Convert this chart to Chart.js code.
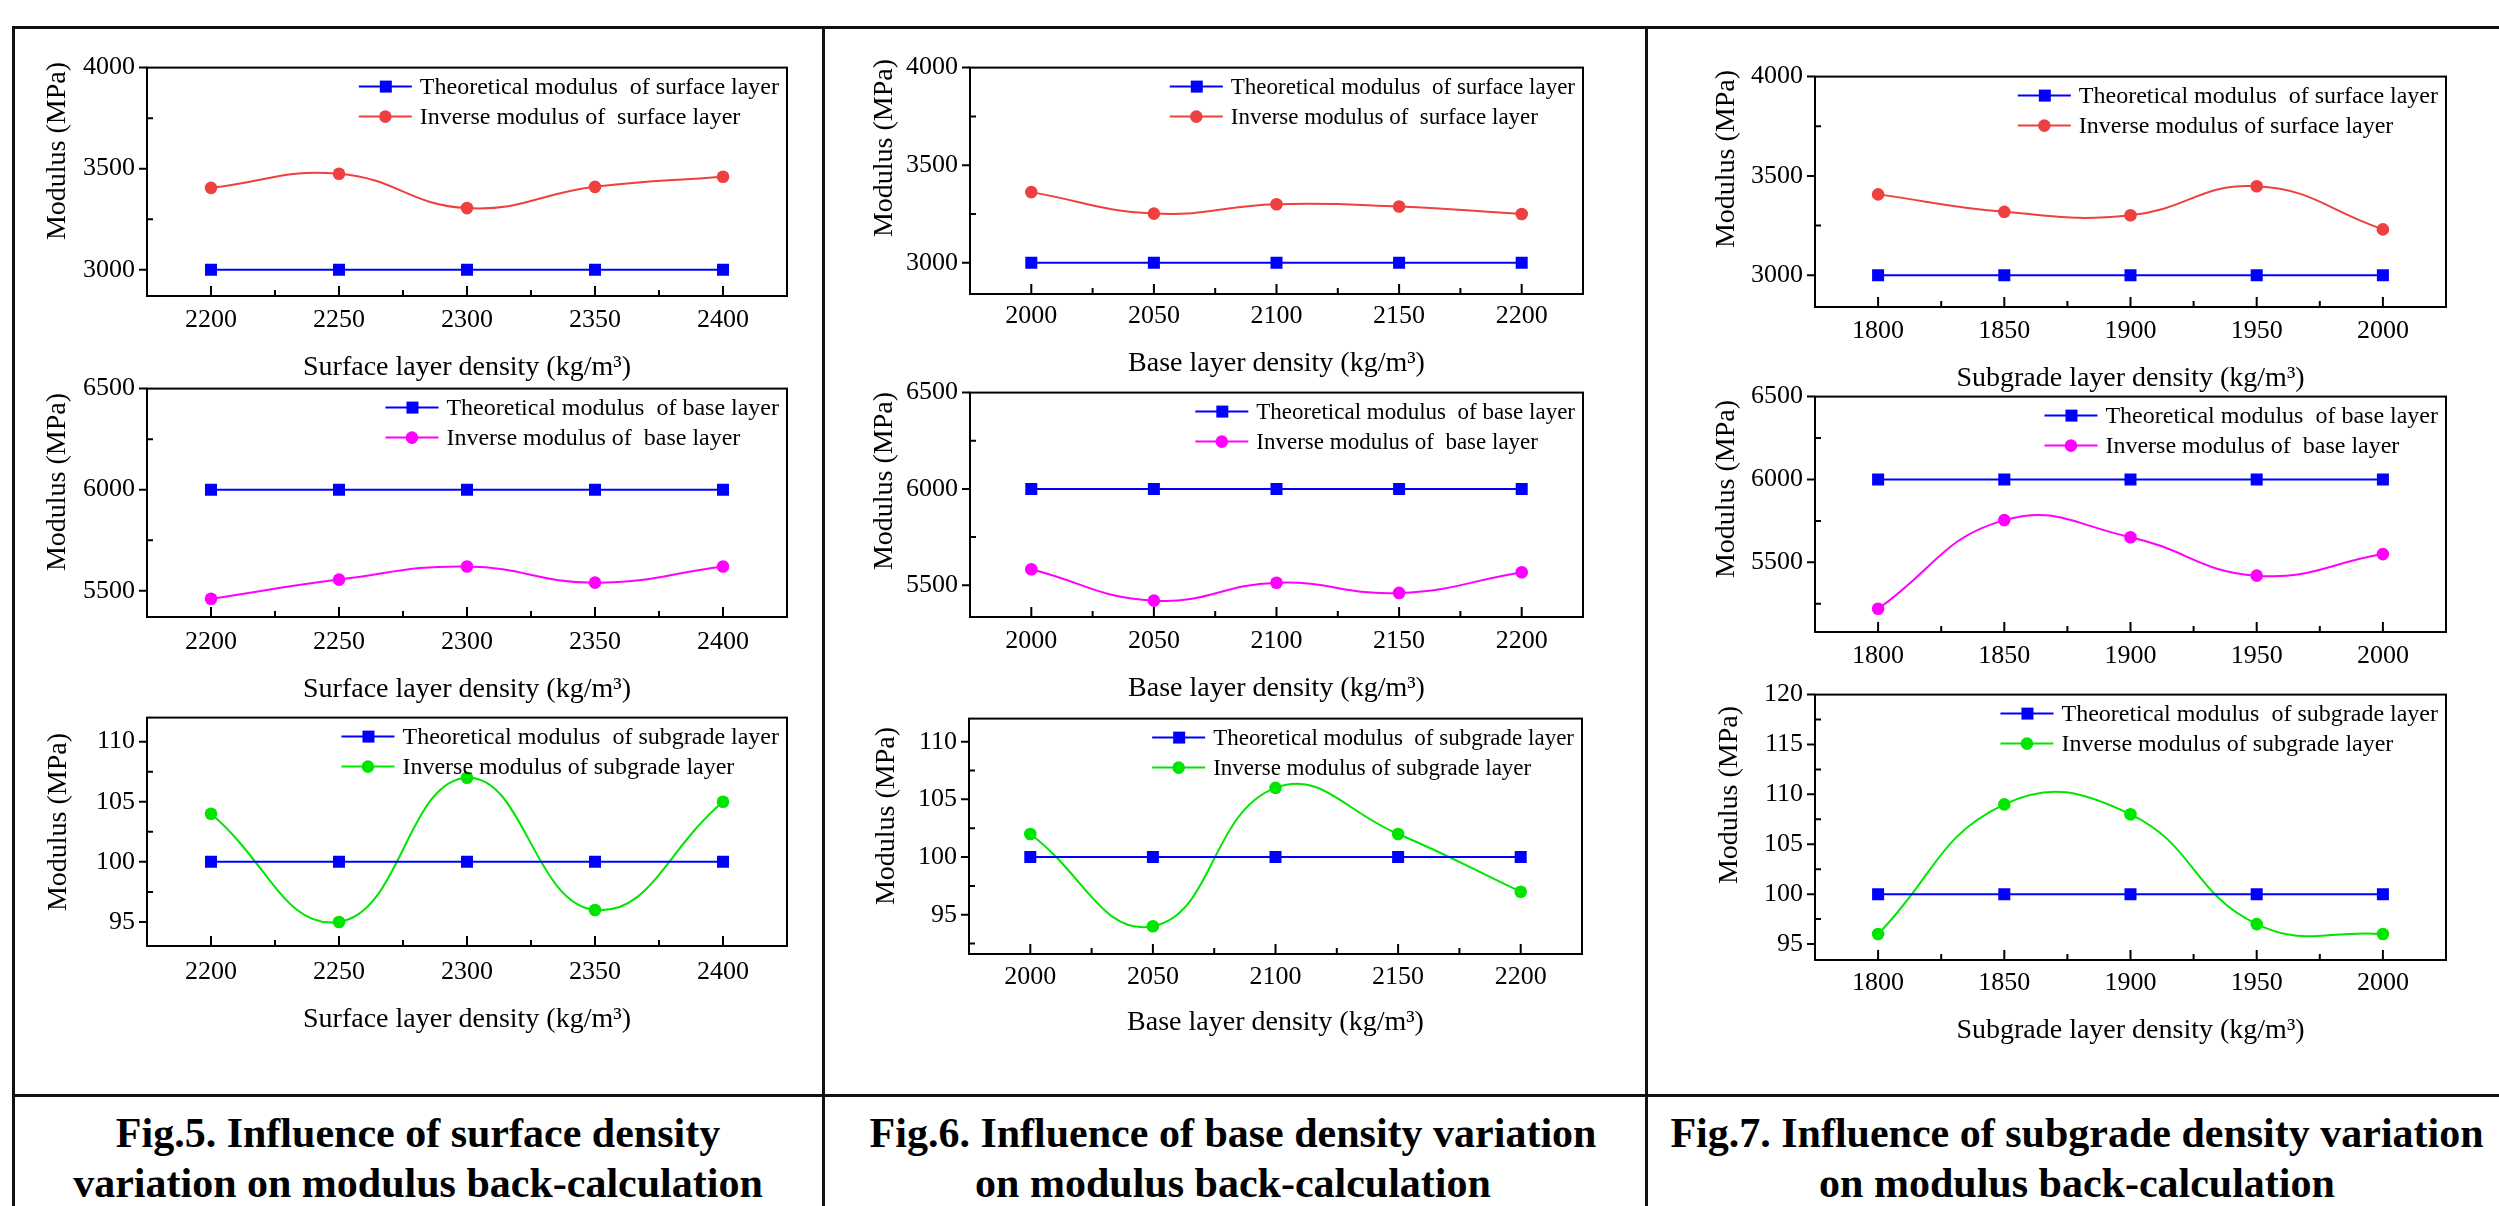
<!DOCTYPE html>
<html>
<head>
<meta charset="utf-8">
<script src="https://cdn.jsdelivr.net/npm/chart.js@4.4.1/dist/chart.umd.min.js"></script>
<style>
  body { margin: 0; background: #fff; width: 2499px; height: 1206px; overflow: hidden; position: relative;
         font-family: "Liberation Serif", "Times New Roman", serif; }
  .rule { position: absolute; background: #111; }
  .caption { position: absolute; top: 1108px; text-align: center; font-weight: bold; font-size: 42px; line-height: 50px; color: #000; }
  canvas { position: absolute; }
</style>
</head>
<body>
<div class="rule" style="left:12px; top:26px; width:2487px; height:3px"></div>
<div class="rule" style="left:12px; top:1094px; width:2487px; height:3px"></div>
<div class="rule" style="left:12px; top:26px; width:3px; height:1180px"></div>
<div class="rule" style="left:822px; top:26px; width:3px; height:1180px"></div>
<div class="rule" style="left:1645px; top:26px; width:3px; height:1180px"></div>

<div class="caption" style="left:15px; width:806px">Fig.5. Influence of surface density<br>variation on modulus back-calculation</div>
<div class="caption" style="left:825px; width:816px">Fig.6. Influence of base density variation<br>on modulus back-calculation</div>
<div class="caption" style="left:1648px; width:858px">Fig.7. Influence of subgrade density variation<br>on modulus back-calculation</div>

<script>
// Dichte-Stufen (x-Achse)
const surfaceDensity = [2200, 2250, 2300, 2350, 2400];
const baseDensity = [2000, 2050, 2100, 2150, 2200];
const subgradeDensity = [1800, 1850, 1900, 1950, 2000];

// Theoretische Moduln
const theoSurface = [3000, 3000, 3000, 3000, 3000];
const theoBase = [6000, 6000, 6000, 6000, 6000];
const theoSubgrade = [100, 100, 100, 100, 100];

// Fig.5 - Variation der Deckschichtdichte
const fig5Surface = [3405, 3475, 3305, 3410, 3460];
const fig5Base = [5460, 5555, 5620, 5540, 5620];
const fig5Subgrade = [104, 95, 107, 96, 105];

// Fig.6 - Variation der Tragschichtdichte
const fig6Surface = [3362, 3252, 3300, 3288, 3250];
const fig6Base = [5583, 5420, 5513, 5460, 5567];
const fig6Subgrade = [102, 94, 106, 102, 97];

// Fig.7 - Variation der Untergrunddichte
const fig7Surface = [3407, 3319, 3302, 3448, 3231];
const fig7Base = [5220, 5755, 5652, 5420, 5550];
const fig7Subgrade = [96, 109, 108, 97, 96];

// Y-Ticks
const surfaceTicks = [3000, 3500, 4000];
const baseTicks = [5500, 6000, 6500];
const subgradeTicks = [95, 100, 105, 110];
const subgradeTicksWide = [95, 100, 105, 110, 115, 120];

// Texte
const yTitle = 'Modulus (MPa)';
const xTitleSurface = 'Surface layer density (kg/m\u00B3)';
const xTitleBase = 'Base layer density (kg/m\u00B3)';
const xTitleSubgrade = 'Subgrade layer density (kg/m\u00B3)';
const legendSurface = ['Theoretical modulus  of surface layer', 'Inverse modulus of  surface layer'];
const legendSurface7 = ['Theoretical modulus  of surface layer', 'Inverse modulus of surface layer'];
const legendBase = ['Theoretical modulus  of base layer', 'Inverse modulus of  base layer'];
const legendSubgrade = ['Theoretical modulus  of subgrade layer', 'Inverse modulus of subgrade layer'];

const FONT = '"Liberation Serif", "Times New Roman", serif';
Chart.defaults.font.family = FONT;
Chart.defaults.color = '#000';

const RED = '#ef4040', MAGENTA = '#ff00ff', GREEN = '#00e600', BLUE = '#0000ff';

// Rahmen + Origin-artige Ticks
const frameTicks = {
    id: 'frameTicks',
    afterDatasetsDraw(chart) {
        const { ctx, chartArea: a, scales: { x, y } } = chart;
        ctx.save();
        ctx.strokeStyle = '#000';
        ctx.lineWidth = 2;
        ctx.strokeRect(a.left, a.top, a.right - a.left, a.bottom - a.top);
        ctx.beginPath();
        const xs = x.ticks.map(t => t.value);
        const xStep = xs[1] - xs[0];
        xs.forEach(v => {
            const px = x.getPixelForValue(v);
            ctx.moveTo(px, a.bottom); ctx.lineTo(px, a.bottom - 10);
        });
        [xs[0] - xStep / 2].concat(xs.map(v => v + xStep / 2)).forEach(v => {
            if (v <= x.min || v >= x.max) return;
            const px = x.getPixelForValue(v);
            ctx.moveTo(px, a.bottom); ctx.lineTo(px, a.bottom - 6);
        });
        const ys = y.ticks.map(t => t.value);
        const yStep = ys[1] - ys[0];
        ys.forEach(v => {
            const py = y.getPixelForValue(v);
            ctx.moveTo(a.left - 8, py); ctx.lineTo(a.left, py);
        });
        [ys[0] - yStep / 2].concat(ys.map(v => v + yStep / 2)).forEach(v => {
            if (v <= y.min || v >= y.max) return;
            const py = y.getPixelForValue(v);
            ctx.moveTo(a.left, py); ctx.lineTo(a.left + 6, py);
        });
        ctx.stroke();
        ctx.restore();
    }
};

// Legende oben rechts im Plot
const insetLegend = {
    id: 'insetLegend',
    afterDatasetsDraw(chart, args, opts) {
        const { ctx, chartArea: a } = chart;
        const sets = chart.data.datasets;
        ctx.save();
        ctx.font = opts.size + 'px ' + FONT;
        const textW = Math.max(...sets.map(d => ctx.measureText(d.label).width));
        const x0 = a.right - 8 - textW - 61;
        sets.forEach((d, i) => {
            const y = a.top + 19 + i * 30;
            ctx.strokeStyle = d.borderColor;
            ctx.lineWidth = 2;
            ctx.beginPath(); ctx.moveTo(x0, y); ctx.lineTo(x0 + 53, y); ctx.stroke();
            ctx.fillStyle = d.borderColor;
            ctx.beginPath();
            if (d.pointStyle === 'rect') {
                ctx.rect(x0 + 21, y - 6, 12, 12);
            } else {
                ctx.arc(x0 + 26.5, y, 6.3, 0, Math.PI * 2);
            }
            ctx.fill();
            ctx.fillStyle = '#000';
            ctx.textBaseline = 'middle';
            ctx.fillText(d.label, x0 + 61, y + 1);
        });
        ctx.restore();
    }
};

// Y-Titel frei positioniert (im Original nicht mittig)
const yTitlePlugin = {
    id: 'yTitle',
    afterDraw(chart, args, opts) {
        const { ctx } = chart;
        ctx.save();
        ctx.font = '28px ' + FONT;
        ctx.fillStyle = '#000';
        ctx.textAlign = 'center';
        ctx.textBaseline = 'middle';
        ctx.translate(opts.x, opts.y);
        ctx.rotate(-Math.PI / 2);
        ctx.fillText(opts.text, 0, 0);
        ctx.restore();
    }
};

function makePanel(p) {
    const left = p.yTitleX - 20;
    const top = p.plot.t - 22;
    const right = p.plot.r + 10;
    const bottom = (p.xTitle ? p.xTitleY : p.tickY) + 22;
    const w = right - left, h = bottom - top;

    const canvas = document.createElement('canvas');
    canvas.width = w; canvas.height = h;
    canvas.style.left = left + 'px';
    canvas.style.top = top + 'px';
    document.body.appendChild(canvas);

    const tickLH = 26 * 1.2, titleLH = 28 * 1.2;

    new Chart(canvas, {
        type: 'line',
        data: {
            datasets: [
                {
                    label: p.legend[0],
                    data: p.x.map((v, i) => ({ x: v, y: p.theo[i] })),
                    borderColor: BLUE, backgroundColor: BLUE, borderWidth: 2,
                    pointStyle: 'rect', pointRadius: 8.5, pointBorderWidth: 0, tension: 0
                },
                {
                    label: p.legend[1],
                    data: p.x.map((v, i) => ({ x: v, y: p.inv[i] })),
                    borderColor: p.color, backgroundColor: p.color, borderWidth: 2,
                    pointStyle: 'circle', pointRadius: 6.3, pointBorderWidth: 0, tension: 0.45
                }
            ]
        },
        options: {
            responsive: false,
            animation: false,
            layout: { padding: { left: 0, top: 22, right: 10, bottom: 0 } },
            plugins: {
                legend: { display: false },
                tooltip: { enabled: false },
                insetLegend: { size: p.legendSize },
                yTitle: { text: yTitle, x: p.yTitleX - left, y: p.yTitleY - top }
            },
            scales: {
                x: {
                    type: 'linear',
                    min: p.xRange[0], max: p.xRange[1],
                    grid: { display: false, drawTicks: false },
                    border: { display: false },
                    afterBuildTicks: s => { s.ticks = p.x.map(v => ({ value: v })); },
                    afterFit: s => { s.height = bottom - p.plot.b; },
                    ticks: {
                        font: { size: 26 }, color: '#000', maxRotation: 0,
                        padding: p.tickY - p.plot.b - tickLH / 2,
                        callback: v => String(v)
                    },
                    title: {
                        display: !!p.xTitle, text: p.xTitle, color: '#000',
                        font: { size: 28 },
                        padding: { top: 0, bottom: 22 - titleLH / 2 }
                    }
                },
                y: {
                    min: p.yRange[0], max: p.yRange[1],
                    grid: { display: false, drawTicks: false },
                    border: { display: false },
                    afterBuildTicks: s => { s.ticks = p.yTicks.map(v => ({ value: v })); },
                    afterFit: s => { s.width = p.plot.l - left; },
                    ticks: { font: { size: 26 }, color: '#000', padding: 12, callback: v => String(v) }
                }
            }
        },
        plugins: [frameTicks, insetLegend, yTitlePlugin]
    });
}

const panels = [
    // Fig.5
    { x: surfaceDensity, theo: theoSurface, inv: fig5Surface, color: RED, legend: legendSurface, legendSize: 24,
      xRange: [2175, 2425], yRange: [2870, 4000], yTicks: surfaceTicks,
      plot: { l: 147, t: 62, r: 787, b: 296 }, tickY: 320, xTitle: xTitleSurface, xTitleY: 368, yTitleX: 58, yTitleY: 151 },
    { x: surfaceDensity, theo: theoBase, inv: fig5Base, color: MAGENTA, legend: legendBase, legendSize: 24,
      xRange: [2175, 2425], yRange: [5370, 6500], yTicks: baseTicks,
      plot: { l: 147, t: 383, r: 787, b: 617 }, tickY: 642, xTitle: xTitleSurface, xTitleY: 690, yTitleX: 58, yTitleY: 482 },
    { x: surfaceDensity, theo: theoSubgrade, inv: fig5Subgrade, color: GREEN, legend: legendSubgrade, legendSize: 24,
      xRange: [2175, 2425], yRange: [93, 112], yTicks: subgradeTicks,
      plot: { l: 147, t: 712, r: 787, b: 946 }, tickY: 972, xTitle: xTitleSurface, xTitleY: 1020, yTitleX: 59, yTitleY: 822 },
    // Fig.6
    { x: baseDensity, theo: theoSurface, inv: fig6Surface, color: RED, legend: legendSurface, legendSize: 23,
      xRange: [1975, 2225], yRange: [2840, 4000], yTicks: surfaceTicks,
      plot: { l: 970, t: 62, r: 1583, b: 294 }, tickY: 316, xTitle: xTitleBase, xTitleY: 364, yTitleX: 885, yTitleY: 148 },
    { x: baseDensity, theo: theoBase, inv: fig6Base, color: MAGENTA, legend: legendBase, legendSize: 23,
      xRange: [1975, 2225], yRange: [5335, 6500], yTicks: baseTicks,
      plot: { l: 970, t: 387, r: 1583, b: 617 }, tickY: 641, xTitle: xTitleBase, xTitleY: 689, yTitleX: 885, yTitleY: 481 },
    { x: baseDensity, theo: theoSubgrade, inv: fig6Subgrade, color: GREEN, legend: legendSubgrade, legendSize: 23,
      xRange: [1975, 2225], yRange: [91.6, 112], yTicks: subgradeTicks,
      plot: { l: 969, t: 713, r: 1582, b: 954 }, tickY: 977, xTitle: xTitleBase, xTitleY: 1023, yTitleX: 887, yTitleY: 816 },
    // Fig.7
    { x: subgradeDensity, theo: theoSurface, inv: fig7Surface, color: RED, legend: legendSurface7, legendSize: 24,
      xRange: [1775, 2025], yRange: [2840, 4000], yTicks: surfaceTicks,
      plot: { l: 1815, t: 71, r: 2446, b: 307 }, tickY: 331, xTitle: xTitleSubgrade, xTitleY: 379, yTitleX: 1727, yTitleY: 159 },
    { x: subgradeDensity, theo: theoBase, inv: fig7Base, color: MAGENTA, legend: legendBase, legendSize: 24,
      xRange: [1775, 2025], yRange: [5080, 6500], yTicks: baseTicks,
      plot: { l: 1815, t: 391, r: 2446, b: 632 }, tickY: 656, xTitle: null, xTitleY: null, yTitleX: 1727, yTitleY: 489 },
    { x: subgradeDensity, theo: theoSubgrade, inv: fig7Subgrade, color: GREEN, legend: legendSubgrade, legendSize: 24,
      xRange: [1775, 2025], yRange: [93.4, 120], yTicks: subgradeTicksWide,
      plot: { l: 1815, t: 689, r: 2446, b: 960 }, tickY: 983, xTitle: xTitleSubgrade, xTitleY: 1031, yTitleX: 1730, yTitleY: 795 }
];

panels.forEach(makePanel);
</script>
</body>
</html>
